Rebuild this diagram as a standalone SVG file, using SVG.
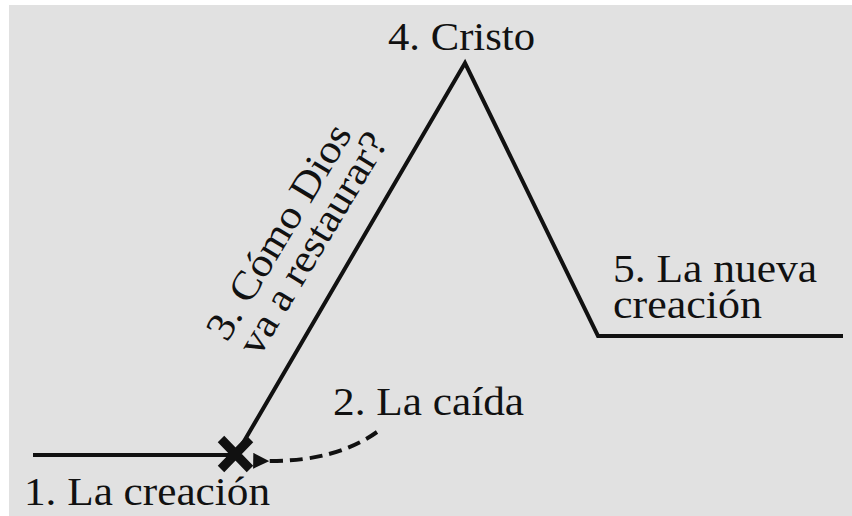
<svg xmlns="http://www.w3.org/2000/svg" width="852" height="516" viewBox="0 0 852 516">
<style>
.t{font-family:"Liberation Serif","Times New Roman",serif;font-size:40px;fill:#111}
.ln{fill:none;stroke:#111;stroke-width:4;stroke-linejoin:miter}
</style>
<defs>
<marker id="ah" viewBox="0 0 10 10" refX="2" refY="5" markerWidth="4" markerHeight="4" orient="auto-start-reverse" markerUnits="strokeWidth">
<path d="M0,5 L10,0 L10,10 Z" fill="#111"/>
</marker>
</defs>
<rect x="0" y="0" width="852" height="516" fill="#ffffff"/>
<rect x="9" y="5" width="843" height="511" fill="#e1e1e1"/>
<g id="connectors">
<path class="ln" d="M33 455 L236 455 L465 63 L598 336 L843 336"/>
<path d="M377 432 Q335 462 266 461" fill="none" stroke="#111" stroke-width="4" stroke-dasharray="13 7" marker-end="url(#ah)"/>
</g>
<g id="fall-mark">
<path d="M221 439 L250 469 M250 439 L221 469" stroke="#111" stroke-width="9" stroke-linecap="butt"/>
</g>
<g id="n1"><text class="t" x="24" y="505" textLength="246" lengthAdjust="spacingAndGlyphs">1. La creación</text></g>
<g id="n2"><text class="t" x="333" y="415" textLength="191" lengthAdjust="spacingAndGlyphs">2. La caída</text></g>
<g id="n3"><text class="t" transform="translate(227 343) rotate(-59)" textLength="244" lengthAdjust="spacingAndGlyphs">3. Cómo Dios</text>
<text class="t" transform="translate(259 358) rotate(-59)" textLength="252" lengthAdjust="spacingAndGlyphs">va a restaurar?</text></g>
<g id="n4"><text class="t" x="388" y="50" textLength="147" lengthAdjust="spacingAndGlyphs">4. Cristo</text></g>
<g id="n5"><text class="t" x="613" y="282" textLength="204" lengthAdjust="spacingAndGlyphs">5. La nueva</text>
<text class="t" x="613" y="318" textLength="149" lengthAdjust="spacingAndGlyphs">creación</text></g>
</svg>
